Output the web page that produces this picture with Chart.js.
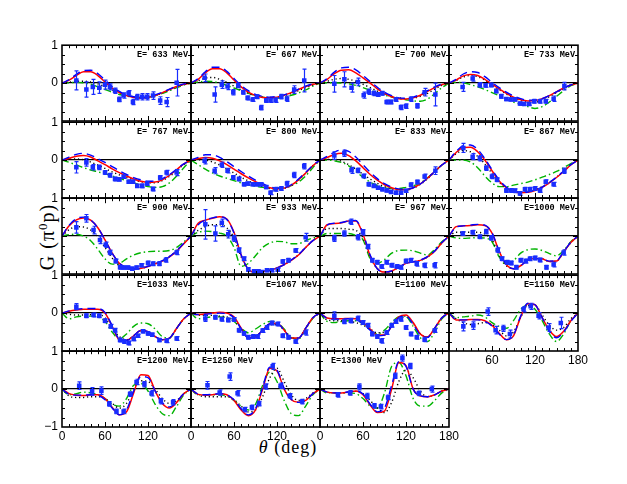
<!DOCTYPE html>
<html>
<head>
<meta charset="utf-8">
<script src="https://cdn.jsdelivr.net/npm/chart.js@4.4.1/dist/chart.umd.min.js"></script>
<style>
  body { margin: 0; background: #fff; }
  #page { position: relative; width: 627px; height: 484px; overflow: hidden; background: #fff; }
  #page canvas { position: absolute; }
  .ytitle { position: absolute; left: 47px; top: 237px; transform: translate(-50%, -50%) rotate(-90deg);
            font: 20px "Liberation Serif", serif; white-space: nowrap; letter-spacing: 1px; }
  .ytitle sup { font-size: 13px; }
  .xtitle { position: absolute; left: 288px; top: 447px; transform: translate(-50%, -50%);
            font: 18px "Liberation Serif", serif; white-space: nowrap; letter-spacing: 1px; }
</style>
</head>
<body>
<div id="page">
  <div class="ytitle">G (π<sup>0</sup>p)</div>
  <div class="xtitle"><i>θ</i> (deg)</div>
</div>
<script>
// model curves are read at these angles (deg)
const theta = [0,10,20,30,40,50,60,70,80,90,100,110,120,130,140,150,160,170,180];
const energies = [633,667,700,733,767,800,833,867,900,933,967,1000,1033,1067,1100,1150,1200,1250,1300];

// red solid
const redCurves = [
  [0,0.08,0.2,0.3,0.3,0.2,0.03,-0.13,-0.25,-0.33,-0.38,-0.4,-0.38,-0.33,-0.25,-0.17,-0.09,-0.03,0],
  [0,0.1,0.27,0.38,0.38,0.27,0.08,-0.1,-0.24,-0.33,-0.38,-0.39,-0.37,-0.32,-0.25,-0.17,-0.09,-0.03,0],
  [0,0.1,0.25,0.34,0.35,0.27,0.14,0,-0.15,-0.27,-0.36,-0.41,-0.42,-0.39,-0.32,-0.22,-0.12,-0.04,0],
  [0,0.08,0.19,0.23,0.2,0.1,-0.03,-0.15,-0.27,-0.37,-0.44,-0.47,-0.46,-0.41,-0.33,-0.23,-0.13,-0.05,0],
  [0,0.05,0.1,0.12,0.08,-0.02,-0.12,-0.23,-0.33,-0.42,-0.5,-0.56,-0.59,-0.58,-0.52,-0.4,-0.25,-0.1,0],
  [0,0.04,0.07,0.05,-0.02,-0.12,-0.24,-0.36,-0.47,-0.57,-0.66,-0.73,-0.76,-0.74,-0.66,-0.52,-0.34,-0.15,0],
  [0,0.07,0.15,0.18,0.12,-0.02,-0.2,-0.38,-0.53,-0.65,-0.73,-0.78,-0.78,-0.73,-0.63,-0.48,-0.3,-0.13,0],
  [0,0.2,0.33,0.34,0.22,0,-0.28,-0.55,-0.73,-0.83,-0.86,-0.85,-0.8,-0.72,-0.6,-0.46,-0.3,-0.13,0],
  [0,0.27,0.43,0.48,0.42,0.22,-0.1,-0.45,-0.72,-0.84,-0.87,-0.85,-0.8,-0.73,-0.66,-0.55,-0.4,-0.2,0],
  [0,0.34,0.42,0.47,0.51,0.45,0.1,-0.5,-0.88,-0.95,-0.93,-0.9,-0.84,-0.75,-0.64,-0.5,-0.3,-0.12,0],
  [0,0.3,0.33,0.35,0.4,0.4,0.05,-0.52,-0.86,-0.95,-0.92,-0.82,-0.72,-0.68,-0.64,-0.55,-0.4,-0.18,0],
  [0,0.25,0.27,0.28,0.3,0.28,0.08,-0.4,-0.75,-0.86,-0.78,-0.63,-0.59,-0.6,-0.67,-0.66,-0.42,-0.17,0],
  [0,0.05,0.08,0.1,0.1,0.1,0,-0.35,-0.7,-0.72,-0.6,-0.46,-0.49,-0.62,-0.7,-0.66,-0.4,-0.15,0],
  [0,-0.04,-0.02,0,0.02,0,-0.1,-0.4,-0.65,-0.63,-0.45,-0.28,-0.27,-0.45,-0.66,-0.66,-0.4,-0.12,0],
  [0,-0.13,-0.15,-0.15,-0.14,-0.15,-0.25,-0.42,-0.58,-0.58,-0.35,-0.1,-0.05,-0.25,-0.55,-0.63,-0.4,-0.12,0],
  [0,-0.18,-0.18,-0.17,-0.17,-0.2,-0.32,-0.53,-0.7,-0.6,-0.1,0.25,0.22,-0.12,-0.45,-0.62,-0.48,-0.2,0],
  [0,-0.12,-0.16,-0.17,-0.15,-0.15,-0.25,-0.48,-0.68,-0.6,-0.1,0.38,0.36,-0.05,-0.38,-0.5,-0.35,-0.12,0],
  [0,-0.14,-0.16,-0.15,-0.12,-0.15,-0.3,-0.55,-0.7,-0.55,0,0.55,0.48,0,-0.28,-0.35,-0.3,-0.12,0],
  [0,-0.08,-0.1,-0.1,-0.08,-0.05,-0.15,-0.42,-0.62,-0.58,0,0.7,0.62,0,-0.18,-0.2,-0.15,-0.05,0]
];

// blue long dashes
const blueCurves = [
  [0,0.09,0.23,0.33,0.34,0.25,0.08,-0.09,-0.22,-0.31,-0.36,-0.38,-0.36,-0.31,-0.24,-0.16,-0.08,-0.02,0],
  [0,0.12,0.3,0.42,0.42,0.31,0.12,-0.06,-0.2,-0.3,-0.35,-0.37,-0.35,-0.31,-0.24,-0.16,-0.08,-0.02,0],
  [0,0.12,0.29,0.4,0.42,0.35,0.2,0.04,-0.11,-0.24,-0.33,-0.39,-0.4,-0.37,-0.3,-0.2,-0.1,-0.03,0],
  [0,0.1,0.24,0.3,0.28,0.17,0.02,-0.12,-0.24,-0.34,-0.41,-0.45,-0.45,-0.41,-0.33,-0.23,-0.13,-0.05,0],
  [0,0.08,0.15,0.18,0.13,0.04,-0.06,-0.17,-0.28,-0.38,-0.46,-0.52,-0.56,-0.55,-0.49,-0.38,-0.24,-0.1,0],
  [0,0.07,0.14,0.14,0.07,-0.04,-0.17,-0.3,-0.42,-0.53,-0.62,-0.7,-0.74,-0.73,-0.65,-0.5,-0.32,-0.14,0],
  [0,0.1,0.21,0.27,0.23,0.08,-0.12,-0.32,-0.49,-0.62,-0.71,-0.76,-0.77,-0.73,-0.63,-0.48,-0.3,-0.13,0],
  [0,0.23,0.38,0.4,0.28,0.04,-0.25,-0.52,-0.71,-0.82,-0.85,-0.84,-0.79,-0.71,-0.59,-0.45,-0.29,-0.12,0],
  [0,0.29,0.46,0.5,0.43,0.22,-0.1,-0.45,-0.71,-0.84,-0.87,-0.85,-0.8,-0.73,-0.65,-0.54,-0.38,-0.19,0],
  [0,0.3,0.42,0.48,0.51,0.44,0.08,-0.5,-0.88,-0.95,-0.93,-0.9,-0.84,-0.75,-0.63,-0.49,-0.3,-0.12,0],
  [0,0.29,0.34,0.36,0.4,0.41,0.07,-0.5,-0.86,-0.95,-0.92,-0.82,-0.72,-0.68,-0.63,-0.54,-0.39,-0.17,0],
  [0,0.24,0.27,0.29,0.31,0.29,0.09,-0.4,-0.75,-0.86,-0.78,-0.63,-0.59,-0.6,-0.66,-0.65,-0.41,-0.16,0],
  [0,0.06,0.1,0.12,0.12,0.12,0.02,-0.33,-0.68,-0.72,-0.6,-0.46,-0.49,-0.62,-0.7,-0.66,-0.4,-0.15,0],
  [0,-0.04,-0.03,-0.01,0,-0.02,-0.12,-0.42,-0.66,-0.63,-0.45,-0.28,-0.27,-0.45,-0.66,-0.66,-0.4,-0.12,0],
  [0,-0.14,-0.16,-0.16,-0.15,-0.17,-0.28,-0.45,-0.6,-0.58,-0.35,-0.12,-0.08,-0.3,-0.58,-0.64,-0.4,-0.12,0],
  [0,-0.17,-0.18,-0.18,-0.18,-0.22,-0.34,-0.55,-0.7,-0.58,-0.08,0.26,0.22,-0.12,-0.48,-0.65,-0.5,-0.22,0],
  [0,-0.14,-0.16,-0.16,-0.15,-0.17,-0.28,-0.5,-0.68,-0.55,-0.05,0.33,0.3,-0.05,-0.35,-0.47,-0.33,-0.12,0],
  [0,-0.13,-0.15,-0.14,-0.12,-0.15,-0.28,-0.52,-0.68,-0.52,0.05,0.58,0.5,0.02,-0.27,-0.35,-0.3,-0.12,0],
  [0,-0.08,-0.1,-0.1,-0.07,-0.05,-0.13,-0.4,-0.6,-0.5,0.1,0.72,0.6,0,-0.18,-0.2,-0.15,-0.05,0]
];

// black dotted
const blackCurves = [
  [0,0.02,0.05,0.05,0.03,-0.02,-0.1,-0.18,-0.25,-0.32,-0.36,-0.38,-0.37,-0.33,-0.26,-0.18,-0.1,-0.04,0],
  [0,0.06,0.13,0.15,0.1,0.02,-0.08,-0.18,-0.27,-0.33,-0.37,-0.38,-0.37,-0.33,-0.27,-0.2,-0.12,-0.05,0],
  [0,0.05,0.1,0.12,0.1,0.05,-0.03,-0.12,-0.21,-0.29,-0.35,-0.39,-0.41,-0.4,-0.35,-0.27,-0.16,-0.06,0],
  [0,0.07,0.16,0.2,0.17,0.08,-0.05,-0.17,-0.29,-0.39,-0.46,-0.5,-0.5,-0.45,-0.36,-0.25,-0.14,-0.05,0],
  [0,0.02,0.03,0.01,-0.05,-0.13,-0.22,-0.31,-0.39,-0.46,-0.52,-0.57,-0.6,-0.6,-0.54,-0.43,-0.28,-0.12,0],
  [0,0.01,0,-0.05,-0.13,-0.23,-0.34,-0.45,-0.55,-0.63,-0.7,-0.75,-0.77,-0.75,-0.67,-0.53,-0.35,-0.15,0],
  [0,0.02,0.02,-0.03,-0.12,-0.24,-0.37,-0.5,-0.61,-0.7,-0.76,-0.79,-0.79,-0.74,-0.64,-0.49,-0.31,-0.13,0],
  [0,0.17,0.25,0.22,0.1,-0.1,-0.35,-0.58,-0.74,-0.82,-0.85,-0.83,-0.78,-0.7,-0.59,-0.45,-0.29,-0.12,0],
  [0,0.17,0.25,0.24,0.16,-0.02,-0.3,-0.58,-0.78,-0.86,-0.87,-0.85,-0.8,-0.73,-0.65,-0.54,-0.38,-0.19,0],
  [0,0.15,0.25,0.3,0.3,0.22,-0.05,-0.55,-0.88,-0.95,-0.93,-0.9,-0.84,-0.75,-0.63,-0.49,-0.3,-0.12,0],
  [0,0.2,0.2,0.2,0.18,0.15,-0.05,-0.55,-0.86,-0.95,-0.92,-0.82,-0.72,-0.68,-0.64,-0.55,-0.4,-0.18,0],
  [0,0.1,0.1,0.1,0.1,0.05,-0.1,-0.5,-0.78,-0.86,-0.78,-0.63,-0.59,-0.6,-0.67,-0.66,-0.42,-0.17,0],
  [0,-0.03,-0.05,-0.05,-0.04,-0.04,-0.12,-0.4,-0.62,-0.7,-0.6,-0.47,-0.49,-0.62,-0.7,-0.66,-0.4,-0.15,0],
  [0,-0.05,-0.06,-0.06,-0.08,-0.1,-0.2,-0.4,-0.6,-0.6,-0.45,-0.3,-0.3,-0.45,-0.66,-0.66,-0.4,-0.12,0],
  [0,-0.18,-0.2,-0.2,-0.22,-0.25,-0.32,-0.42,-0.52,-0.5,-0.32,-0.12,-0.08,-0.28,-0.55,-0.63,-0.4,-0.12,0],
  [0,-0.15,-0.25,-0.3,-0.28,-0.25,-0.3,-0.45,-0.6,-0.5,-0.12,0.2,0.2,-0.05,-0.32,-0.45,-0.38,-0.15,0],
  [0,-0.18,-0.22,-0.22,-0.2,-0.2,-0.25,-0.38,-0.5,-0.38,0,0.22,0.2,0,-0.25,-0.38,-0.3,-0.12,0],
  [0,-0.15,-0.2,-0.2,-0.2,-0.2,-0.28,-0.45,-0.6,-0.55,-0.2,0.3,0.55,0.2,-0.15,-0.3,-0.25,-0.1,0],
  [0,-0.08,-0.1,-0.1,-0.08,-0.06,-0.12,-0.3,-0.5,-0.62,-0.35,0.2,0.5,0.3,-0.05,-0.2,-0.15,-0.05,0]
];

// green dash-dot
const greenCurves = [
  [0,0.01,0.02,0.01,-0.03,-0.1,-0.17,-0.24,-0.3,-0.34,-0.37,-0.38,-0.37,-0.33,-0.27,-0.2,-0.12,-0.05,0],
  [0,0.03,0.05,0.04,0,-0.06,-0.13,-0.2,-0.27,-0.33,-0.37,-0.4,-0.4,-0.37,-0.32,-0.26,-0.18,-0.08,0],
  [0,0.01,0.01,0,-0.02,-0.06,-0.12,-0.19,-0.26,-0.32,-0.37,-0.41,-0.44,-0.47,-0.48,-0.42,-0.28,-0.12,0],
  [0,0.02,0.01,-0.04,-0.1,-0.17,-0.25,-0.33,-0.42,-0.5,-0.56,-0.62,-0.67,-0.62,-0.5,-0.35,-0.2,-0.07,0],
  [0,-0.06,-0.13,-0.2,-0.26,-0.31,-0.36,-0.42,-0.48,-0.54,-0.6,-0.65,-0.7,-0.72,-0.7,-0.6,-0.42,-0.2,0],
  [0,-0.12,-0.24,-0.34,-0.42,-0.48,-0.54,-0.6,-0.65,-0.69,-0.72,-0.74,-0.74,-0.72,-0.67,-0.58,-0.42,-0.2,0],
  [0,0,-0.02,-0.06,-0.15,-0.3,-0.45,-0.58,-0.67,-0.73,-0.75,-0.75,-0.72,-0.68,-0.6,-0.47,-0.3,-0.13,0],
  [0,0,0,-0.05,-0.2,-0.42,-0.6,-0.7,-0.7,-0.66,-0.62,-0.58,-0.52,-0.45,-0.38,-0.3,-0.2,-0.09,0],
  [0,0.04,0.05,0,-0.12,-0.35,-0.6,-0.74,-0.72,-0.6,-0.5,-0.44,-0.41,-0.4,-0.4,-0.38,-0.3,-0.15,0],
  [0,0.1,0.13,0.12,0.08,0,-0.3,-0.8,-0.72,-0.52,-0.3,-0.18,-0.14,-0.15,-0.2,-0.2,-0.12,-0.05,0],
  [0,0.07,0.07,0.07,0.07,0.02,-0.1,-0.6,-0.72,-0.62,-0.45,-0.38,-0.37,-0.39,-0.45,-0.5,-0.35,-0.15,0],
  [0,-0.05,-0.06,-0.05,-0.04,-0.05,-0.15,-0.55,-0.75,-0.65,-0.45,-0.36,-0.34,-0.38,-0.46,-0.52,-0.38,-0.15,0],
  [0,-0.15,-0.1,-0.08,-0.08,-0.1,-0.22,-0.5,-0.68,-0.55,-0.35,-0.26,-0.28,-0.42,-0.62,-0.65,-0.4,-0.15,0],
  [0,-0.15,-0.12,-0.1,-0.1,-0.12,-0.22,-0.4,-0.52,-0.42,-0.3,-0.22,-0.25,-0.42,-0.65,-0.68,-0.42,-0.14,0],
  [0,-0.22,-0.25,-0.22,-0.2,-0.2,-0.28,-0.45,-0.55,-0.45,-0.25,-0.1,-0.1,-0.35,-0.65,-0.75,-0.5,-0.15,0],
  [0,-0.12,-0.1,-0.08,-0.05,-0.1,-0.25,-0.35,-0.4,-0.2,0.1,0.2,0.1,-0.2,-0.55,-0.75,-0.55,-0.2,0],
  [0,-0.15,-0.12,-0.08,-0.1,-0.15,-0.25,-0.4,-0.45,-0.25,0.1,0.15,-0.05,-0.4,-0.65,-0.7,-0.45,-0.15,0],
  [0,-0.15,-0.15,-0.15,-0.15,-0.18,-0.3,-0.45,-0.55,-0.4,0.1,0.45,0.2,-0.3,-0.65,-0.7,-0.45,-0.15,0],
  [0,-0.1,-0.1,-0.1,-0.1,-0.12,-0.25,-0.45,-0.5,-0.1,0.6,0.7,0.35,-0.25,-0.45,-0.45,-0.3,-0.1,0]
];

// measured points: angle, G, error
const dataTheta = [
  [20,34,43,52,60,67,74,80,86,93,99,105,112,119,127,137,146,160],
  [19,33,43,51,59,66,73,79,86,92,98,105,111,118,126,134,144,158],
  [20,34,44,53,61,68,75,81,87,93,99,106,113,120,127,136,146,161],
  [19,33,43,51,59,66,73,80,86,92,99,105,112,119,127,135,146,161],
  [20,34,43,52,60,67,74,80,86,93,99,105,112,119,127,137,146,160],
  [19,33,43,51,59,67,74,79,86,92,98,105,111,118,126,134,144,158],
  [20,34,44,53,61,68,75,81,87,93,99,106,113,120,127,136,146,161],
  [20,33,43,52,60,67,80,86,92,99,106,113,120,127,135,146,161],
  [20,34,44,53,61,67,75,81,86,92,98,104,111,120,127,136,145,160],
  [20,34,43,52,60,67,74,80,88,94,99,106,113,121,128,136,146,160],
  [20,34,43,53,60,67,73,80,86,93,100,107,113,120,127,135,146,160],
  [19,33,43,52,59,68,74,81,87,94,100,107,113,120,127,136,146,160],
  [20,34,44,52,60,68,74,81,87,93,100,106,113,120,126,136,146,160],
  [20,34,43,52,60,67,74,80,87,93,100,106,113,121,128,136,146,160],
  [20,34,43,53,60,67,73,80,86,93,100,106,113,120,127,135,146,160],
  [20,34,54,65,76,85,104,114,125,139,156],
  [24,42,55,66,76,86,95,104,115,125,138,155],
  [23,40,54,65,75,85,95,104,114,125,138,155],
  [25,42,55,66,76,85,95,105,115,126,138,156]
];
const dataG = [
  [0.07,-0.17,-0.1,-0.12,-0.04,-0.1,-0.2,-0.43,-0.33,-0.26,-0.5,-0.37,-0.36,-0.36,-0.33,-0.46,-0.5,0.01],
  [0.14,-0.3,-0.04,-0.09,-0.24,-0.06,-0.24,-0.39,-0.43,-0.36,-0.65,-0.46,-0.46,-0.45,-0.36,-0.41,-0.17,0.07],
  [-0.02,0.1,-0.12,0.03,-0.32,-0.23,-0.27,-0.3,-0.27,-0.5,-0.5,-0.43,-0.64,-0.61,-0.42,-0.6,-0.24,-0.3],
  [-0.1,0.12,-0.05,-0.06,-0.05,-0.21,-0.35,-0.42,-0.43,-0.43,-0.54,-0.55,-0.55,-0.48,-0.48,-0.48,-0.41,-0.08],
  [-0.19,-0.06,-0.19,-0.19,-0.33,-0.4,-0.5,-0.51,-0.44,-0.57,-0.57,-0.68,-0.68,-0.62,-0.76,-0.46,-0.33,-0.33],
  [-0.02,-0.28,-0.12,-0.28,-0.46,-0.5,-0.64,-0.62,-0.64,-0.64,-0.64,-0.71,-0.86,-0.77,-0.75,-0.62,-0.39,-0.16],
  [0.12,0.18,-0.27,-0.27,-0.42,-0.64,-0.68,-0.73,-0.77,-0.8,-0.84,-0.86,-0.86,-0.81,-0.65,-0.58,-0.43,-0.28],
  [0.32,0.09,0.05,-0.21,-0.43,-0.52,-0.8,-0.8,-0.81,-0.88,-0.77,-0.77,-0.75,-0.8,-0.57,-0.64,-0.28],
  [0.23,0.47,0.16,-0.1,-0.23,-0.43,-0.66,-0.82,-0.83,-0.83,-0.86,-0.83,-0.77,-0.71,-0.73,-0.73,-0.63,-0.43],
  [0.31,0.07,0.35,0.05,-0.06,-0.37,-0.6,-0.88,-0.93,-0.93,-0.95,-0.9,-0.9,-0.89,-0.67,-0.64,-0.38,-0.03],
  [-0.06,0.07,0.38,-0.03,0.1,-0.28,-0.64,-0.69,-0.8,-0.69,-0.77,-0.8,-0.82,-0.66,-0.64,-0.73,-0.77,-0.77],
  [0.07,0.1,-0.02,0.12,-0.05,-0.37,-0.6,-0.69,-0.71,-0.82,-0.64,-0.66,-0.6,-0.58,-0.63,-0.82,-0.75,-0.43],
  [0.17,-0.07,-0.05,-0.07,-0.2,-0.35,-0.45,-0.71,-0.75,-0.79,-0.68,-0.6,-0.48,-0.54,-0.57,-0.71,-0.73,-0.67],
  [-0.14,-0.11,-0.16,-0.18,-0.17,-0.45,-0.54,-0.64,-0.62,-0.62,-0.46,-0.38,-0.26,-0.29,-0.6,-0.64,-0.75,-0.51],
  [-0.07,-0.22,-0.2,-0.14,-0.25,-0.32,-0.55,-0.62,-0.73,-0.51,-0.32,-0.22,-0.16,-0.38,-0.55,-0.64,-0.7,-0.46],
  [-0.35,-0.33,0.04,-0.45,-0.4,-0.55,0.1,0.18,-0.07,-0.38,-0.26],
  [0.09,-0.06,-0.04,-0.39,-0.59,-0.59,-0.13,0.19,0.13,-0.11,-0.32,-0.35],
  [0.1,-0.09,0.33,-0.11,-0.54,-0.48,-0.38,0.07,0.6,0.09,-0.18,-0.33],
  [-0.15,-0.1,0.06,-0.18,-0.44,-0.46,-0.22,0.35,0.82,0.61,-0.11,0]
];
const dataErr = [
  [0.25,0.2,0.2,0.15,0.12,0.08,0.07,0.06,0.07,0.06,0.07,0.07,0.08,0.08,0.1,0.1,0.12,0.35],
  [0.1,0.2,0.1,0.08,0.07,0.06,0.05,0.05,0.05,0.05,0.06,0.05,0.05,0.06,0.06,0.07,0.1,0.3],
  [0.22,0.2,0.12,0.1,0.08,0.07,0.06,0.05,0.05,0.05,0.05,0.05,0.06,0.06,0.06,0.06,0.1,0.3],
  [0.12,0.07,0.06,0.05,0.05,0.05,0.05,0.04,0.04,0.04,0.04,0.04,0.04,0.05,0.05,0.05,0.07,0.1],
  [0.15,0.1,0.07,0.06,0.05,0.05,0.05,0.04,0.04,0.04,0.04,0.04,0.05,0.05,0.05,0.05,0.06,0.08],
  [0.08,0.08,0.07,0.06,0.05,0.05,0.04,0.04,0.04,0.04,0.04,0.04,0.05,0.05,0.05,0.06,0.07,0.07],
  [0.1,0.08,0.08,0.06,0.05,0.05,0.04,0.04,0.04,0.04,0.04,0.04,0.04,0.04,0.05,0.05,0.06,0.1],
  [0.12,0.08,0.07,0.06,0.06,0.05,0.05,0.05,0.05,0.05,0.05,0.05,0.05,0.05,0.05,0.05,0.07],
  [0.15,0.1,0.1,0.1,0.07,0.06,0.05,0.05,0.04,0.04,0.04,0.04,0.04,0.05,0.05,0.05,0.06,0.06],
  [0.39,0.2,0.1,0.1,0.08,0.06,0.05,0.05,0.04,0.04,0.04,0.04,0.04,0.04,0.05,0.05,0.05,0.1],
  [0.08,0.07,0.07,0.07,0.07,0.06,0.05,0.05,0.05,0.05,0.05,0.05,0.05,0.05,0.05,0.06,0.06,0.07],
  [0.05,0.05,0.05,0.06,0.06,0.06,0.05,0.05,0.05,0.05,0.05,0.05,0.05,0.05,0.05,0.05,0.06,0.07],
  [0.08,0.05,0.05,0.05,0.05,0.05,0.05,0.05,0.05,0.05,0.05,0.04,0.04,0.04,0.04,0.04,0.05,0.05],
  [0.08,0.05,0.05,0.05,0.05,0.05,0.05,0.05,0.05,0.05,0.05,0.05,0.05,0.05,0.05,0.05,0.05,0.07],
  [0.1,0.06,0.06,0.06,0.05,0.05,0.05,0.05,0.06,0.05,0.05,0.05,0.05,0.05,0.05,0.05,0.05,0.05],
  [0.12,0.1,0.1,0.1,0.08,0.1,0.07,0.08,0.08,0.1,0.15],
  [0.1,0.1,0.1,0.06,0.06,0.06,0.06,0.07,0.07,0.07,0.07,0.07],
  [0.1,0.07,0.1,0.07,0.06,0.06,0.06,0.07,0.08,0.07,0.06,0.06],
  [0.06,0.06,0.08,0.07,0.06,0.06,0.06,0.07,0.08,0.07,0.06,0.08]
];

// panel grid on the page
const colX = [62, 191, 320, 449];
const rowY = [44, 121, 197, 274, 350];
const PW = 129, PH = 77;
const PAD_L = 30, PAD_T = 10, PAD_R = 14, PAD_B = 22;

const dataColor = 'rgb(25,45,255)';

// vertical error bars with small caps, under the points
const errorBars = {
  id: 'errorBars',
  beforeDatasetDraw(chart, args) {
    if (args.index !== 0) return;
    const ds = chart.data.datasets[0];
    const { ctx, scales: { x, y } } = chart;
    ctx.save();
    ctx.strokeStyle = dataColor;
    ctx.lineWidth = 1.2;
    ctx.beginPath();
    ds.data.forEach((p, i) => {
      const px = Math.round(x.getPixelForValue(p.x)) + 0.5;
      const lo = y.getPixelForValue(p.y - ds.errors[i]);
      const hi = y.getPixelForValue(p.y + ds.errors[i]);
      ctx.moveTo(px, lo); ctx.lineTo(px, hi);
      ctx.moveTo(px - 2, lo); ctx.lineTo(px + 2, lo);
      ctx.moveTo(px - 2, hi); ctx.lineTo(px + 2, hi);
    });
    ctx.stroke();
    ctx.restore();
  }
};

// frame, inward ticks on four sides, energy label
const panelFrame = {
  id: 'panelFrame',
  afterDraw(chart, args, opts) {
    const { ctx, chartArea: a, scales: { x, y } } = chart;
    ctx.save();
    ctx.strokeStyle = '#000';
    ctx.lineWidth = 1;
    ctx.beginPath();
    for (let t = 10; t < 180; t += 10) {
      const px = Math.round(x.getPixelForValue(t)) + 0.5;
      const len = t % 60 === 0 ? 5 : 3;
      ctx.moveTo(px, a.top); ctx.lineTo(px, a.top + len);
      ctx.moveTo(px, a.bottom); ctx.lineTo(px, a.bottom - len);
    }
    for (let v = -0.75; v < 1; v += 0.25) {
      const py = Math.round(y.getPixelForValue(v)) + 0.5;
      const len = v === 0 ? 5 : 3;
      ctx.moveTo(a.left, py); ctx.lineTo(a.left + len, py);
      ctx.moveTo(a.right, py); ctx.lineTo(a.right - len, py);
    }
    ctx.stroke();
    ctx.lineWidth = 1.6;
    ctx.strokeRect(a.left, a.top, a.right - a.left, a.bottom - a.top);

    ctx.fillStyle = '#000';
    ctx.font = 'bold 8.5px "Liberation Mono", "DejaVu Sans Mono", monospace';
    ctx.textBaseline = 'alphabetic';
    if (opts.left) {
      ctx.textAlign = 'left';
      ctx.fillText(opts.text, a.left + 11, a.top + 12);
    } else {
      ctx.textAlign = 'right';
      ctx.fillText(opts.text, a.right - 3, a.top + 12);
    }
    ctx.restore();
  }
};

const tickFont = { family: '"Liberation Sans Narrow", "Liberation Sans", Arial, sans-serif', size: 12 };
const page = document.getElementById('page');

energies.forEach((e, k) => {
  const col = k % 4, row = Math.floor(k / 4);
  const canvas = document.createElement('canvas');
  canvas.width = PW + PAD_L + PAD_R;
  canvas.height = PH + PAD_T + PAD_B;
  canvas.style.left = (colX[col] - PAD_L) + 'px';
  canvas.style.top = (rowY[row] - PAD_T) + 'px';
  page.appendChild(canvas);

  // which tick labels this panel shows
  const lastInCol = k + 4 >= energies.length;
  let xLabels = [];
  if (lastInCol) xLabels = k === energies.length - 1 ? [0, 60, 120, 180] : (col === 3 ? [60, 120, 180] : [0, 60, 120]);
  let yLabels = [];
  if (col === 0) yLabels = row === 2 ? [1] : (row === 4 ? [1, 0, -1] : [1, 0]);

  const curve = vals => theta.map((t, i) => ({ x: t, y: vals[i] }));
  const line = (vals, color, dash, width) => ({
    type: 'line', data: curve(vals), borderColor: color, borderDash: dash, borderWidth: width,
    pointRadius: 0, fill: false, cubicInterpolationMode: 'monotone'
  });

  // first dataset is drawn last (on top)
  new Chart(canvas, {
    type: 'scatter',
    data: {
      datasets: [
        {
          type: 'scatter',
          data: dataTheta[k].map((t, i) => ({ x: t, y: dataG[k][i] })),
          errors: dataErr[k],
          pointStyle: 'rect', pointRadius: 3.2,
          backgroundColor: dataColor, borderColor: dataColor, borderWidth: 0
        },
        line(blueCurves[k], '#0000ff', [8, 5], 1.4),
        line(redCurves[k], '#ff0000', [], 1.5),
        line(blackCurves[k], '#000000', [1.2, 2.8], 1.4),
        line(greenCurves[k], '#00b400', [7, 3, 1.5, 3], 1.4)
      ]
    },
    options: {
      responsive: false,
      animation: false,
      events: [],
      layout: { padding: { left: 0, top: PAD_T, right: PAD_R, bottom: 0 } },
      plugins: {
        legend: { display: false },
        tooltip: { enabled: false },
        panelFrame: { text: 'E=' + (e < 1000 ? ' ' + e : e) + ' MeV', left: e >= 1250 }
      },
      scales: {
        x: {
          type: 'linear', min: 0, max: 180,
          afterFit(s) { s.height = PAD_B; },
          grid: { display: false, drawTicks: false },
          border: { display: false },
          ticks: {
            stepSize: 60, autoSkip: false, maxRotation: 0, padding: 2,
            color: '#000', font: tickFont,
            callback: v => xLabels.includes(v) ? String(v) : ''
          }
        },
        y: {
          type: 'linear', min: -1, max: 1,
          afterFit(s) { s.width = PAD_L; },
          grid: {
            drawTicks: false, lineWidth: 1.3,
            color: c => (c.tick && c.tick.value === 0) ? '#000' : 'rgba(0,0,0,0)'
          },
          border: { display: false },
          ticks: {
            stepSize: 1, padding: 4, color: '#000', font: tickFont,
            callback: v => yLabels.includes(v) ? (v < 0 ? '\u22121' : String(v)) : ''
          }
        }
      }
    },
    plugins: [errorBars, panelFrame]
  });
});
</script>
</body>
</html>
